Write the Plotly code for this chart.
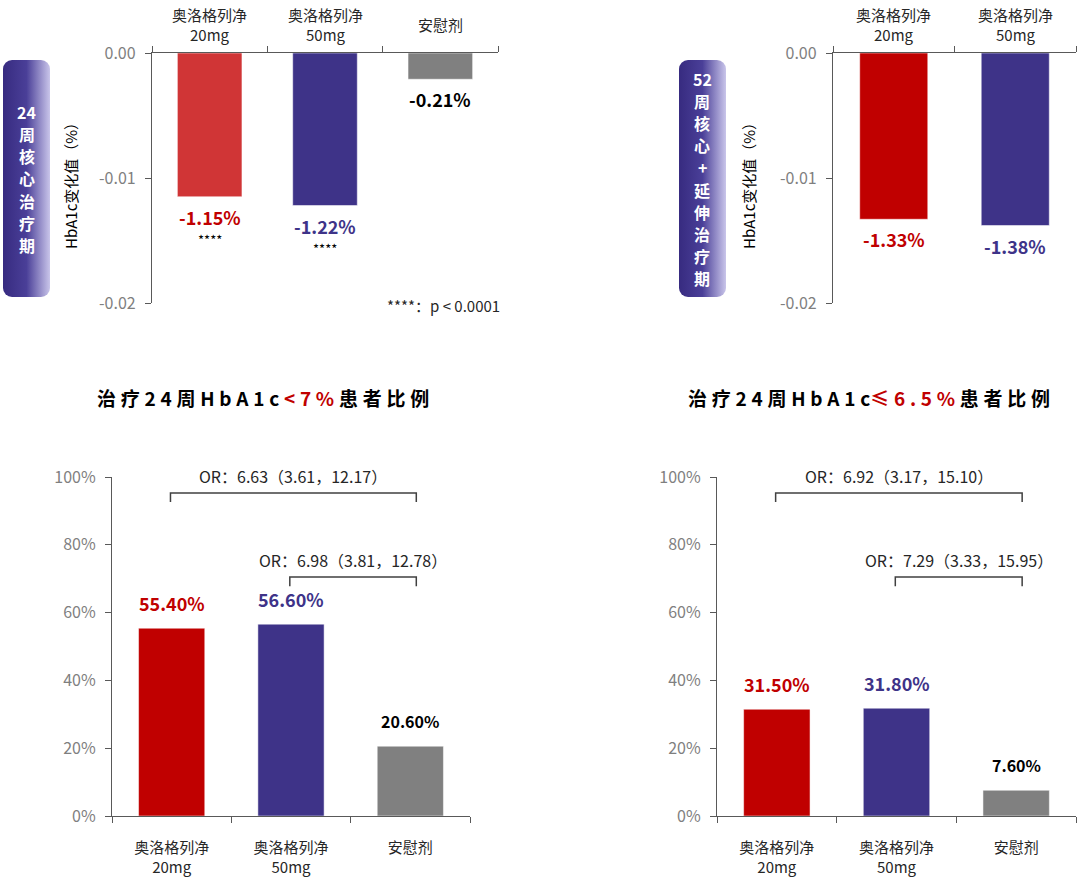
import base64
import plotly.graph_objects as go

# ---- data ----
cats3 = ["奥洛格列净<br>20mg", "奥洛格列净<br>50mg", "安慰剂"]
cats2 = cats3[:2]

chg24 = [-0.0115, -0.0122, -0.0021]
chg24_text = ["-1.15%", "-1.22%", "-0.21%"]
chg24_sig = ["****", "****", ""]
chg52 = [-0.0133, -0.0138]
chg52_text = ["-1.33%", "-1.38%"]

rate7 = [0.554, 0.566, 0.206]
rate7_text = ["55.40%", "56.60%", "20.60%"]
rate65 = [0.315, 0.318, 0.076]
rate65_text = ["31.50%", "31.80%", "7.60%"]

or7 = ["OR：6.63（3.61，12.17）", "OR：6.98（3.81，12.78）"]
or65 = ["OR：6.92（3.17，15.10）", "OR：7.29（3.33，15.95）"]
or_pairs = [(0, 2), (1, 2)]

badge24 = ["24", "周", "核", "心", "治", "疗", "期"]
badge52 = ["52", "周", "核", "心", "+", "延", "伸", "治", "疗", "期"]

chg_ticks = [0, -0.01, -0.02]
rate_ticks = [0, 0.2, 0.4, 0.6, 0.8, 1.0]

RED = "#c00000"
RED_LIGHT = "#d03536"
BLUE = "#3e3388"
GREY = "#808080"
FONT = "Noto Sans CJK SC"
AXC = "#595959"
W, H = 1080, 886


def px(x):
    return x / W


def py(y):
    return 1 - y / H


fig = go.Figure()

edge = dict(color="rgba(255,255,255,0.5)", width=1)
fig.add_trace(go.Bar(x=cats3, y=chg24, xaxis="x", yaxis="y", width=0.56,
                     marker=dict(color=[RED_LIGHT, BLUE, GREY], line=edge), hoverinfo="skip"))
fig.add_trace(go.Bar(x=cats2, y=chg52, xaxis="x2", yaxis="y2", width=0.56,
                     marker=dict(color=[RED, BLUE], line=edge), hoverinfo="skip"))
fig.add_trace(go.Bar(x=cats3, y=rate7, xaxis="x3", yaxis="y3", width=0.555,
                     marker=dict(color=[RED, BLUE, GREY], line=edge), hoverinfo="skip"))
fig.add_trace(go.Bar(x=cats3, y=rate65, xaxis="x4", yaxis="y4", width=0.555,
                     marker=dict(color=[RED, BLUE, GREY], line=edge), hoverinfo="skip"))

top_dom = [py(303), py(53)]
bot_dom = [py(816), py(477)]

xcommon = dict(showline=True, linecolor=AXC, linewidth=1.3, ticks="outside",
               tickson="boundaries", ticklen=6, tickcolor=AXC, showgrid=False,
               automargin=False,
               tickfont=dict(family=FONT, size=15, color="#262626"), fixedrange=True)
ycommon = dict(showline=True, linecolor=AXC, linewidth=1.3, ticks="outside",
               ticklen=6, tickcolor=AXC, showgrid=False, zeroline=False,
               ticklabelstandoff=6, automargin=False,
               tickfont=dict(family=FONT, size=16, color="#7f7f7f"), fixedrange=True)

fig.update_layout(
    xaxis=dict(domain=[px(152), px(498)], anchor="y", side="top", showticklabels=False, **xcommon),
    yaxis=dict(domain=top_dom, anchor="x", range=[-0.02, 0], tickvals=chg_ticks,
               ticktext=[f"{v:.2f}".replace("-0.00", "0.00") for v in chg_ticks], **ycommon),
    xaxis2=dict(domain=[px(833), px(1076)], anchor="y2", side="top", showticklabels=False, **xcommon),
    yaxis2=dict(domain=top_dom, anchor="x2", range=[-0.02, 0], tickvals=chg_ticks,
                ticktext=[f"{v:.2f}".replace("-0.00", "0.00") for v in chg_ticks], **ycommon),
    xaxis3=dict(domain=[px(112), px(470)], anchor="y3", ticklabelstandoff=18, **xcommon),
    yaxis3=dict(domain=bot_dom, anchor="x3", range=[0, 1.0], tickvals=rate_ticks,
                tickformat=".0%", **ycommon),
    xaxis4=dict(domain=[px(717), px(1076)], anchor="y4", ticklabelstandoff=18, **xcommon),
    yaxis4=dict(domain=bot_dom, anchor="x4", range=[0, 1.0], tickvals=rate_ticks,
                tickformat=".0%", **ycommon),
)

ann = []

# category labels above the top panels (centred vertically like the reference)
for xr, cats in [("x", cats3), ("x2", cats2)]:
    for c in cats:
        ann.append(dict(x=c, y=top_dom[1], xref=xr, yref="paper", text=c, showarrow=False,
                        xanchor="center", yanchor="middle", yshift=29,
                        font=dict(family=FONT, size=15, color="#262626")))

# value labels under the negative bars
for c, v, t, s, col in zip(cats3, chg24, chg24_text, chg24_sig, [RED, BLUE, "#000000"]):
    ann.append(dict(x=c, y=v, xref="x", yref="y", text=f"<b>{t}</b>", showarrow=False,
                    xanchor="center", yanchor="middle", yshift=-20,
                    font=dict(family=FONT, size=18, color=col)))
    if s:
        ann.append(dict(x=c, y=v, xref="x", yref="y", text=s, showarrow=False,
                        xanchor="center", yanchor="middle", yshift=-43,
                        font=dict(family=FONT, size=13, color="#000000")))
for c, v, t, col in zip(cats2, chg52, chg52_text, [RED, BLUE]):
    ann.append(dict(x=c, y=v, xref="x2", yref="y2", text=f"<b>{t}</b>", showarrow=False,
                    xanchor="center", yanchor="middle", yshift=-20,
                    font=dict(family=FONT, size=18, color=col)))

# value labels above the rate bars
for xr, yr, vals, texts in [("x3", "y3", rate7, rate7_text), ("x4", "y4", rate65, rate65_text)]:
    for c, v, t, col in zip(cats3, vals, texts, [RED, BLUE, "#000000"]):
        ann.append(dict(x=c, y=v, xref=xr, yref=yr, text=f"<b>{t}</b>", showarrow=False,
                        xanchor="center", yanchor="middle", yshift=25,
                        font=dict(family=FONT, size=18 if col != "#000000" else 16, color=col)))

# OR brackets
shapes = []
bracket_levels = [0.953, 0.705]
for xr, yr, texts in [("x3", "y3", or7), ("x4", "y4", or65)]:
    for (i, j), lvl, t in zip(or_pairs, bracket_levels, texts):
        x0, x1 = i - 0.01, j + 0.05
        shapes.append(dict(type="path", xref=xr, yref=yr,
                           path=f"M {x0},{lvl - 0.027} L {x0},{lvl} L {x1},{lvl} L {x1},{lvl - 0.027}",
                           line=dict(color="#404040", width=1.5)))
        ann.append(dict(x=(x0 + x1) / 2, y=lvl, xref=xr, yref=yr, text=t, showarrow=False,
                        xanchor="center", yanchor="middle", yshift=17,
                        font=dict(family=FONT, size=16, color="#262626")))

# axis titles
for xp in [70, 748]:
    ann.append(dict(x=px(xp), y=py(182), xref="paper", yref="paper", text="HbA1c变化值（%）",
                    textangle=-90, showarrow=False, xanchor="center", yanchor="middle",
                    font=dict(family=FONT, size=15, color="#000000")))

# footnote
ann.append(dict(x=px(501), y=py(305), xref="paper", yref="paper", xanchor="right",
                yanchor="middle", text="****：p &lt; 0.0001", showarrow=False,
                font=dict(family=FONT, size=15, color="#262626")))


# section titles with letter spacing
def spaced(s):
    return "\u2005".join(s)


t1 = ("<b>" + spaced("治疗24周HbA1c") + "\u2005<span style='color:#c00000'>"
      + spaced("<7%").replace("<", "&lt;") + "</span>\u2005" + spaced("患者比例") + "</b>")
t2 = ("<b>" + spaced("治疗24周HbA1c") + "<span style='color:#c00000'>"
      + spaced("≤6.5%") + "</span>\u2005" + spaced("患者比例") + "</b>")
for xc, t in [(263, t1), (869, t2)]:
    ann.append(dict(x=px(xc), y=py(397), xref="paper", yref="paper", text=t, showarrow=False,
                    xanchor="center", yanchor="middle",
                    font=dict(family=FONT, size=19, color="#000000")))

# side badges
svg = ("<svg xmlns='http://www.w3.org/2000/svg' width='47' height='237'>"
       "<defs><linearGradient id='g' x1='0' x2='1' y1='0' y2='0'>"
       "<stop offset='0' stop-color='#372b80'/><stop offset='0.5' stop-color='#4a3f98'/>"
       "<stop offset='1' stop-color='#c9c5ea'/></linearGradient></defs>"
       "<rect x='0' y='0' width='47' height='237' rx='9' ry='9' fill='url(#g)'/></svg>")
src = "data:image/svg+xml;base64," + base64.b64encode(svg.encode()).decode()
images = []
for bx, chars in [(3, badge24), (679, badge52)]:
    images.append(dict(source=src, xref="paper", yref="paper", x=px(bx), y=py(60),
                       sizex=px(47), sizey=237 / H, sizing="stretch",
                       xanchor="left", yanchor="top", layer="below"))
    n = len(chars)
    for k, ch in enumerate(chars):
        ann.append(dict(x=px(bx + 23.5), y=py(178.5 + (k - (n - 1) / 2) * 22.2),
                        xref="paper", yref="paper", text=f"<b>{ch}</b>", showarrow=False,
                        xanchor="center", yanchor="middle",
                        font=dict(family=FONT, size=16, color="#ffffff")))

for a in ann:
    a["borderpad"] = 0

fig.update_layout(
    width=W, height=H, margin=dict(l=0, r=0, t=0, b=0),
    paper_bgcolor="#ffffff", plot_bgcolor="#ffffff",
    showlegend=False, annotations=ann, shapes=shapes, images=images,
    font=dict(family=FONT),
)

fig.write_html("out.html", config={"displayModeBar": False},
               post_script="document.body.style.margin='0';")
